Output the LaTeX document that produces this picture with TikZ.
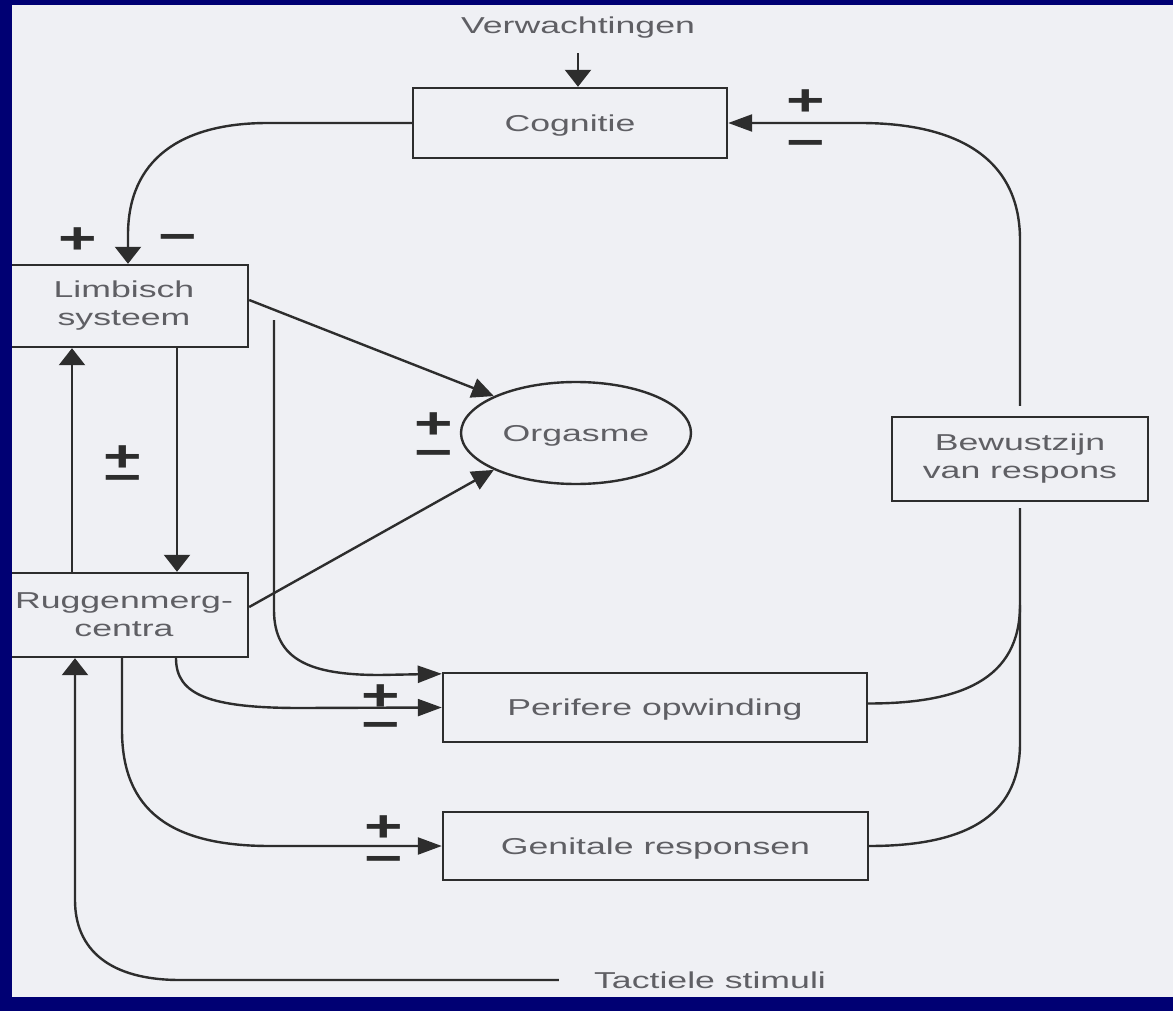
\documentclass[tikz,border=0pt]{standalone}
\usepackage{fontspec}
\usetikzlibrary{arrows.meta,shapes.geometric}
\newfontfamily\lblfont[FakeStretch=1.55]{Liberation Sans}
\newfontfamily\signfont[FakeStretch=1.5]{Liberation Sans}
\definecolor{navy}{RGB}{0,0,115}
\definecolor{paper}{RGB}{239,240,244}
\definecolor{ink}{RGB}{45,45,45}
\definecolor{txt}{RGB}{95,95,100}
\begin{document}
\begin{tikzpicture}[x=1pt,y=-1pt,
  box/.style={draw=ink, line width=2.4pt, rectangle, inner sep=0pt, text=txt,
    font=\lblfont\fontsize{23}{28}\selectfont, align=center},
  oneline/.style={text height=16.5pt, text depth=0pt},
  oval/.style={draw=ink, line width=2.4pt, ellipse, inner sep=0pt, text=txt,
    minimum width=230pt, minimum height=102pt, text height=16.5pt, text depth=0pt,
    font=\lblfont\fontsize{23}{28}\selectfont},
  lbl/.style={text=txt, inner sep=0pt, text height=16.5pt, text depth=0pt,
    font=\lblfont\fontsize{23}{28}\selectfont},
  sgn/.style={text=ink, inner sep=0pt, anchor=base, yshift=-15.5pt,
    font=\signfont\bfseries\fontsize{44}{44}\selectfont},
  conn/.style={draw=ink, line width=2.4pt},
  harr/.style={conn, -{Triangle[length=24pt,width=17pt]}},
  varr/.style={conn, -{Triangle[length=17pt,width=26pt]}},
  darr/.style={conn, -{Triangle[length=22pt,width=20pt]}}
]
\useasboundingbox (0,0) rectangle (1173,1011);
\fill[navy] (0,0) rectangle (1173,1011);
\fill[paper] (12,5) rectangle (1173,997);
\begin{scope}
\clip (12,5) rectangle (1173,997);
% nodes
\node[lbl] (verw) at (578,25) {Verwachtingen};
\node[box, oneline, minimum width=314pt, minimum height=70pt] (cog) at (570,123) {Cognitie};
\node[box, minimum width=248pt, minimum height=82pt] (limb) at (124,306) {Limbisch\\systeem};
\node[box, minimum width=248pt, minimum height=84pt] (rugg) at (124,615) {Ruggenmerg-\\centra};
\node[oval] (org) at (576,433) {Orgasme};
\node[box, minimum width=256pt, minimum height=84pt] (bew) at (1020,459) {Bewustzijn\\van respons};
\node[box, oneline, minimum width=424pt, minimum height=69pt] (per) at (655,707.5) {Perifere opwinding};
\node[box, oneline, minimum width=425pt, minimum height=68pt] (gen) at (655.5,846) {Genitale responsen};
\node[lbl] (tact) at (710,980) {Tactiele stimuli};
\coordinate (lstart) at (274,320);
% connectors
\draw[varr] ([yshift=-20pt]verw.south) -- (verw.south |- cog.north);
\draw[varr] (cog.west) -- (268,123) .. controls (180,123) and (128,160) .. (128,235) -- ([xshift=4pt]limb.north);
\draw[harr, shorten <=10pt] (bew.north) -- (1020,240) .. controls (1020,160) and (960,123) .. (860,123) -- (cog.east);
\draw[conn, shorten >=6pt] (gen.east) .. controls (975,846) and (1020,810) .. (1020,743) -- (bew.south);
\draw[conn] ([yshift=4pt]per.east) .. controls (960,703.5) and (1020,680) .. (1020,605);
\draw[darr] ([yshift=6pt]limb.east) -- (org.north west);
\draw[darr] ([yshift=8pt]rugg.east) -- (org.south west);
\draw[varr] ([xshift=-52pt]rugg.north) -- ([xshift=-52pt]limb.south);
\draw[varr] ([xshift=53pt]limb.south) -- ([xshift=53pt]rugg.north);
\draw[harr] (lstart) -- (274,610) .. controls (274,660) and (310,675) .. (380,675) -- ([yshift=-2pt]per.north west);
\draw[harr] ([xshift=52pt]rugg.south) .. controls (176,695) and (210,708) .. (300,708) -- (per.west);
\draw[harr] ([xshift=-2pt]rugg.south) -- (122,730) .. controls (122,810) and (170,846) .. (270,846) -- (gen.west);
\draw[varr] ([xshift=-35pt]tact.west) -- (180,980) .. controls (110,980) and (75,950) .. (75,900) -- ([xshift=-49pt]rugg.south);
% signs
\node[sgn] (p1) at (806,100) {+};
\node[sgn] (m1) at (806,142) {−};
\node[sgn] (p2) at (78,238) {+};
\node[sgn] (m2) at (178,236) {−};
\node[sgn] (p3) at (123,456) {+};
\node[sgn] (m3) at (123,477) {−};
\node[sgn] (p4) at (434,423) {+};
\node[sgn] (m4) at (434,452) {−};
\node[sgn] (p5) at (381,695) {+};
\node[sgn] (m5) at (381,724) {−};
\node[sgn] (p6) at (384,826) {+};
\node[sgn] (m6) at (384,858) {−};
\end{scope}
\end{tikzpicture}
\end{document}
